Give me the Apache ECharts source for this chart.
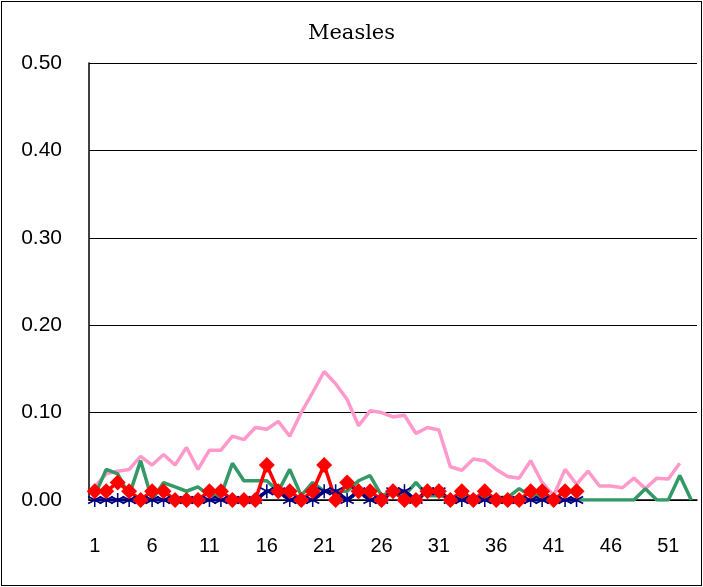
<!DOCTYPE html><html><head><meta charset="utf-8"><script src="https://cdn.jsdelivr.net/npm/echarts@6/dist/echarts.min.js"></script>
<style>body{margin:0}#c{width:703px;height:587px}#b{position:absolute;left:1px;top:1px;width:699px;height:583px;border:1px solid #000;pointer-events:none}</style></head><body><div id="c"></div><div id="b"></div><script>
var categories=[];for(var i=1;i<=53;i++)categories.push(String(i));
var pink=[0.015,0.03,0.033,0.035,0.05,0.04,0.052,0.04,0.06,0.035,0.057,0.057,0.073,0.069,0.083,0.081,0.09,0.073,0.1,0.123,0.147,0.133,0.115,0.085,0.102,0.1,0.095,0.097,0.076,0.083,0.08,0.038,0.034,0.047,0.045,0.035,0.027,0.025,0.045,0.02,0.005,0.035,0.018,0.033,0.016,0.016,0.014,0.025,0.013,0.025,0.024,0.042];
var green=[0.005,0.035,0.03,0.005,0.045,0,0.02,0.015,0.01,0.015,0.005,0.005,0.042,0.022,0.022,0.022,0.01,0.035,0.005,0.02,0.01,0.01,0.01,0.022,0.028,0.005,0.01,0.005,0.02,0.005,0.005,0.003,0.003,0.003,0.003,0.003,0.003,0.013,0.005,0.005,0,0,0,0,0,0,0,0,0.013,0,0,0.028,0];
var red=[0.01,0.01,0.02,0.01,0,0.01,0.01,0,0,0,0.01,0.01,0,0,0,0.04,0.01,0.01,0,0.01,0.04,0,0.02,0.01,0.01,0,0.01,0,0,0.01,0.01,0,0.01,0,0.01,0,0,0,0.01,0.01,0,0.01,0.01];
var blue=[0,0,0,0,0,0,0,0,0,0,0,0,0,0,0,0.01,0.01,0,0,0,0.01,0.01,0,0.01,0,0,0.01,0.01,0,0.01,0.01,0,0,0,0,0,0,0,0,0,0,0,0];
var star='path://M9,0L11,0L11,8L18,4L19,6L12,10L19,14L18,16L11,12L11,20L9,20L9,12L2,16L1,14L8,10L1,6L2,4L9,8Z';
var ch=echarts.init(document.getElementById('c'));
ch.setOption({animation:false,
title:{text:'Measles',left:'center',top:18,textStyle:{fontFamily:'DejaVu Serif',fontWeight:'normal',fontSize:21,color:'#000'}},
grid:{left:89,right:6,top:63,bottom:87},
xAxis:{type:'category',data:categories,boundaryGap:true,axisLine:{lineStyle:{color:'#000',width:1.5}},axisTick:{inside:true,alignWithLabel:true,interval:4,lineStyle:{color:'#000'}},axisLabel:{interval:4,margin:36,fontSize:20,color:'#000',fontFamily:'Liberation Sans'}},
yAxis:{type:'value',min:0,max:0.5,interval:0.1,axisLine:{show:true,lineStyle:{color:'#000',width:1.5}},splitLine:{lineStyle:{color:'#000'}},axisLabel:{formatter:function(v){return v.toFixed(2)},fontSize:21,color:'#000',margin:27,fontFamily:'Liberation Sans'}},
series:[
{type:'line',data:pink,symbol:'none',lineStyle:{color:'#ff99cc',width:3.5}},
{type:'line',data:green,symbol:'none',lineStyle:{color:'#339966',width:3.5}},
{type:'line',data:blue,showAllSymbol:true,symbol:star,symbolSize:14,itemStyle:{color:'#000080'},lineStyle:{color:'#000080',width:3.5}},
{type:'line',data:red,showAllSymbol:true,symbol:'diamond',symbolSize:16,itemStyle:{color:'#ff0000'},lineStyle:{color:'#ff0000',width:3.5}}
]});
</script></body></html>
